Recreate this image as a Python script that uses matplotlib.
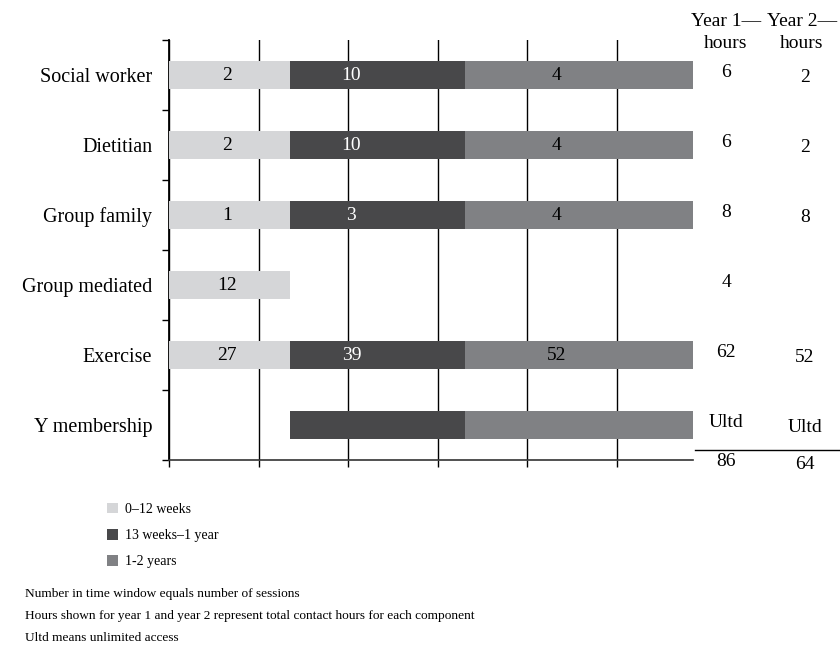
import matplotlib
matplotlib.use("Agg")
import matplotlib.pyplot as plt
import matplotlib.transforms as mtransforms

plt.rcParams['font.family'] = ['Liberation Serif', 'DejaVu Serif']

categories = ["Social worker", "Dietitian", "Group family", "Group mediated", "Exercise", "Y membership"]
period_names = ["0\u201312 weeks", "13 weeks\u20131 year", "1-2 years"]
# sessions per time window (None = segment absent, "" = segment without label)
sessions_p1 = ["2", "2", "1", "12", "27", None]
sessions_p2 = ["10", "10", "3", None, "39", ""]
sessions_p3 = ["4", "4", "4", None, "52", ""]
year1_hours = ["6", "6", "8", "4", "62", "Ultd"]
year2_hours = ["2", "2", "8", "", "52", "Ultd"]
totals = ["86", "64"]
notes = ["Number in time window equals number of sessions",
         "Hours shown for year 1 and year 2 represent total contact hours for each component",
         "Ultd means unlimited access"]

# time-window boundaries on the x scale
bounds = [0, 1.35, 3.31, 5.85]
colors = ["#d5d6d8", "#48484a", "#808184"]
text_colors = ["black", "white", "black"]
label_frac = [0.48, 0.35, 0.4]

fig = plt.figure(figsize=(8.4, 6.47), dpi=100)
ax = fig.add_axes([169/840, 1-460/647, (693-169)/840, (460-40)/647])

n = len(categories)
ypos = [i + 0.5 for i in range(n)]
series = [sessions_p1, sessions_p2, sessions_p3]
for k, ser in enumerate(series):
    left = bounds[k]
    width = bounds[k+1] - bounds[k]
    ys = [y for y, v in zip(ypos, ser) if v is not None]
    labs = [v for v in ser if v is not None]
    ax.barh(ys, [width]*len(ys), left=left, height=0.4, color=colors[k],
            label=period_names[k], zorder=3)
    for y, v in zip(ys, labs):
        if v:
            ax.text(left + width*label_frac[k], y, v, ha='center', va='center',
                    color=text_colors[k], fontsize=14, zorder=4)

ax.set_xlim(0, bounds[-1])
ax.set_ylim(n, 0)
ax.set_xticks(range(0, 6))
ax.set_xticklabels([])
ax.set_yticks(range(0, n+1))
ax.set_yticklabels([])
ax.set_yticks(ypos, minor=True)
ax.set_yticklabels(categories, minor=True, fontsize=14.5)
ax.tick_params(axis='y', which='minor', length=0, pad=12)
ax.tick_params(axis='both', which='major', length=5, width=1, color='black')
ax.grid(axis='x', color='black', linewidth=1, zorder=0)
for s in ['top', 'right']:
    ax.spines[s].set_visible(False)
ax.spines['left'].set_linewidth(1.3)
ax.spines['bottom'].set_linewidth(1.2)
ax.spines['bottom'].set_color('#333333')

# right-hand hours columns
trans = mtransforms.blended_transform_factory(fig.transFigure, ax.transData)
col_x = [726/840, 805/840]
fig.text(col_x[0], 1-13/647, "Year 1\u2014\nhours", ha='center', va='top', fontsize=14, linespacing=1.38)
fig.text(col_x[1]-3/840, 1-13/647, "Year 2\u2014\nhours", ha='center', va='top', fontsize=14, linespacing=1.38)
for y, a, b in zip(ypos, year1_hours, year2_hours):
    ax.text(col_x[0], y - 0.04, a, transform=trans, ha='center', va='center', fontsize=14, clip_on=False)
    ax.text(col_x[1], y + 0.04, b, transform=trans, ha='center', va='center', fontsize=14, clip_on=False)
ax.plot([695/840, 1.0], [5.857, 5.857], transform=trans, color='black', lw=1, clip_on=False)
ax.text(col_x[0], 6.02, totals[0], transform=trans, ha='center', va='center', fontsize=14, clip_on=False)
ax.text(col_x[1], 6.06, totals[1], transform=trans, ha='center', va='center', fontsize=14, clip_on=False)

# legend
handles, labels = ax.get_legend_handles_labels()
fig.legend(handles, labels, loc='upper left', bbox_to_anchor=(101/840, 1-497/647),
           frameon=False, fontsize=10, handlelength=0.8, handleheight=0.8,
           handletextpad=0.55, labelspacing=0.95, borderaxespad=0)

for i, t in enumerate(notes):
    fig.text(25/840, 1-(594 + 22*i)/647, t, ha='left', va='center', fontsize=9.6)

fig.savefig("out.png", dpi=100)
